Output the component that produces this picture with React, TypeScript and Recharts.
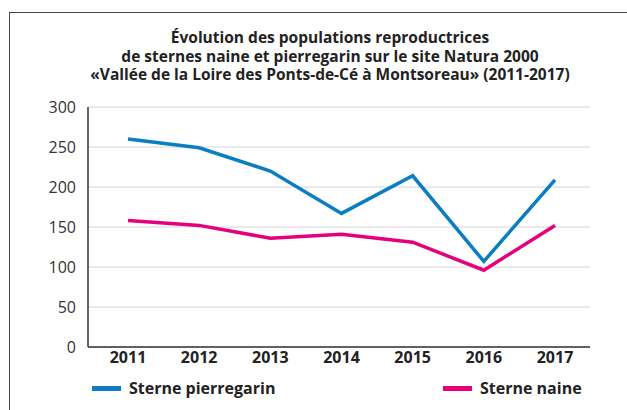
import { LineChart, Line, XAxis, YAxis, CartesianGrid } from 'recharts'

const YEARS = ['2011', '2012', '2013', '2014', '2015', '2016', '2017']
const PIERREGARIN = [260, 249, 220, 167, 214, 107, 209]
const NAINE = [158, 152, 136, 141, 131, 96, 152]
const Y_TICKS = [0, 50, 100, 150, 200, 250, 300]

const TITLE = [
  'Évolution des populations reproductrices',
  'de sternes naine et pierregarin sur le site Natura 2000',
  '«Vallée de la Loire des Ponts-de-Cé à Montsoreau» (2011-2017)',
]

const BLUE = '#0b7dc2'
const PINK = '#e5007d'
const FONT = '"Open Sans", "Noto Sans", sans-serif'

const data = YEARS.map((year, i) => ({
  year,
  pierregarin: PIERREGARIN[i],
  naine: NAINE[i],
}))

function LegendItem({ color, label, left }: { color: string; label: string; left: number }) {
  return (
    <div style={{ position: 'absolute', left, top: 377, height: 22, display: 'flex', alignItems: 'center' }}>
      <span style={{ display: 'inline-block', width: 29, height: 5, background: color, marginRight: 8 }} />
      <span style={{ fontWeight: 700, fontSize: 16, color: '#222', fontFamily: FONT }}>{label}</span>
    </div>
  )
}

export default function App() {
  return (
    <div style={{ position: 'absolute', left: 0, top: 0, width: 627, height: 410, background: '#fff', overflow: 'hidden', fontFamily: FONT }}>
      <div style={{ position: 'absolute', left: 9, top: 12, width: 640, height: 420, borderLeft: '1.5px solid #444', borderTop: '1.5px solid #444' }} />
      <div style={{ position: 'absolute', left: 0, top: 28, width: 660, textAlign: 'center', fontWeight: 700, fontSize: 15.5, lineHeight: '18.5px', color: '#222' }}>
        {TITLE.map(t => <div key={t}>{t}</div>)}
      </div>
      <div style={{ position: 'absolute', left: 0, top: 0 }}>
        <LineChart width={627} height={410} data={data} margin={{ top: 107, right: 37, left: 0, bottom: 33 }}>
          <CartesianGrid vertical={false} stroke="#d4d4d4" strokeWidth={1} />
          <XAxis
            dataKey="year"
            scale="point"
            height={30}
            padding={{ left: 40, right: 35 }}
            tickLine={false}
            tickSize={0}
            tickMargin={5}
            stroke="#333"
            strokeWidth={1.5}
            tick={{ fill: '#222', fontSize: 16, fontWeight: 700, fontFamily: FONT }}
          />
          <YAxis
            width={88}
            domain={[0, 300]}
            ticks={Y_TICKS}
            tickLine={false}
            tickSize={0}
            tickMargin={12}
            stroke="#333"
            strokeWidth={1.5}
            tick={{ fill: '#333', fontSize: 16, fontFamily: FONT }}
          />
          <Line type="linear" dataKey="pierregarin" stroke={BLUE} strokeWidth={3.5} dot={false} isAnimationActive={false} />
          <Line type="linear" dataKey="naine" stroke={PINK} strokeWidth={3.5} dot={false} isAnimationActive={false} />
        </LineChart>
      </div>
      <LegendItem color={BLUE} label="Sterne pierregarin" left={92} />
      <LegendItem color={PINK} label="Sterne naine" left={443} />
    </div>
  )
}
